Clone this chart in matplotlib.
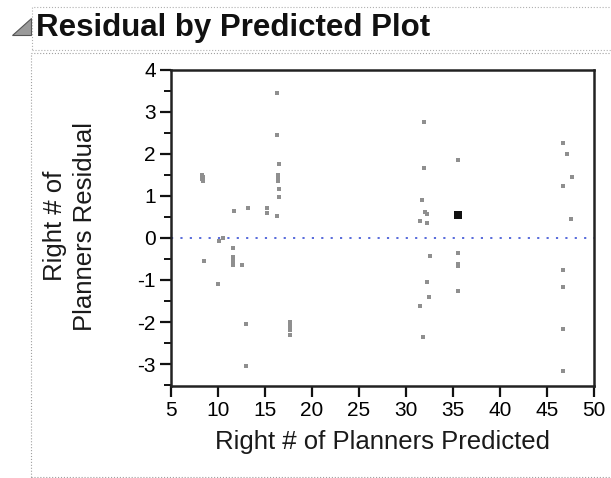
import numpy as np
import matplotlib.pyplot as plt
from matplotlib.patches import Polygon, Rectangle
from matplotlib.ticker import MultipleLocator

plt.rcParams['font.family'] = ['Liberation Sans', 'DejaVu Sans']
plt.rcParams['axes.unicode_minus'] = False

# predicted values and residuals
predicted = [8.3, 8.3, 8.4, 8.4, 8.5, 10.0, 10.1, 10.5, 11.6, 11.6, 11.6, 11.6, 11.7,
             12.5, 13.0, 13.0, 13.2, 15.2, 15.2, 16.3, 16.3, 16.5, 16.4, 16.4, 16.4,
             16.5, 16.5, 16.3, 17.7, 17.7, 17.7, 17.7,
             31.9, 31.9, 31.7, 32.0, 32.2, 31.5, 32.2, 32.6, 32.2, 32.4, 31.5, 31.8,
             35.5, 35.5, 35.5, 35.5, 35.5,
             46.7, 47.1, 47.7, 46.7, 47.6, 46.7, 46.7, 46.7, 46.7]
residual = [1.5, 1.4, 1.35, 1.45, -0.54, -1.09, -0.07, 0.0, -0.24, -0.45, -0.55, -0.65, 0.64,
            -0.64, -2.05, -3.05, 0.71, 0.6, 0.7, 3.45, 2.45, 1.76, 1.5, 1.42, 1.35,
            1.17, 0.98, 0.52, -2.0, -2.1, -2.2, -2.3,
            2.75, 1.67, 0.9, 0.62, 0.57, 0.40, 0.36, -0.44, -1.05, -1.40, -1.62, -2.35,
            1.86, -0.36, -0.66, -1.26, -0.62,
            2.26, 2.0, 1.45, 1.24, 0.45, -0.76, -1.16, -2.17, -3.17]
# overlapping points drawn darker
heavy_x = [35.5]
heavy_y = [0.55]

fig = plt.figure(figsize=(6.11, 4.78), dpi=100)
ax = fig.add_axes([0.280, 0.1925, 0.692, 0.662])

ax.scatter(predicted, residual, s=6, marker='s', color='#8f8f8f', linewidths=0, zorder=3)
ax.scatter(heavy_x, heavy_y, s=26, marker='s', color='#111111', linewidths=0, zorder=4)
ax.axhline(0, color='#4a5fd8', linestyle=(0, (1.2, 4)), linewidth=1.3, zorder=2)

ax.set_xlim(5, 50)
ax.set_ylim(-3.52, 4)
ax.xaxis.set_major_locator(MultipleLocator(5))
ax.yaxis.set_minor_locator(MultipleLocator(0.5))
ax.set_yticks([-3, -2, -1, 0, 1, 2, 3, 4])
ax.tick_params(axis='both', which='major', length=8, width=1.6, labelsize=15, pad=3, color='#111111')
ax.tick_params(axis='y', which='minor', length=5, width=1.4, color='#111111')
for s in ax.spines.values():
    s.set_linewidth(1.8)
    s.set_color('#222222')

ax.set_xlabel('Right # of Planners Predicted', fontsize=18.5, labelpad=7, color='#1a1a1a')
fig.text(0.1146, 0.527, 'Right # of\nPlanners Residual', fontsize=18.5, rotation=90,
         ha='center', va='center', linespacing=1.3, color='#1a1a1a')

# title bar with disclosure triangle and dotted frames
fig.text(0.059, 0.941, 'Residual by Predicted Plot', fontsize=22.5, fontweight='bold',
         va='center', ha='left', color='#111111')
fig.patches.append(Polygon([[12 / 611, 1 - 35 / 478], [31 / 611, 1 - 35 / 478], [31 / 611, 1 - 18 / 478]],
                           closed=True, transform=fig.transFigure, facecolor='#9a9a9a',
                           edgecolor='#555555', lw=0.8))
fig.patches.append(Rectangle((32 / 611, 1 - 50 / 478), 0.97, 43 / 478, transform=fig.transFigure,
                             fill=False, edgecolor='#b0b0b0', linestyle=':', lw=0.8))
fig.patches.append(Rectangle((31 / 611, 0.002), 0.97, 424 / 478, transform=fig.transFigure,
                             fill=False, edgecolor='#a0a0a0', linestyle=':', lw=0.8))

fig.savefig('out.png', dpi=100)
